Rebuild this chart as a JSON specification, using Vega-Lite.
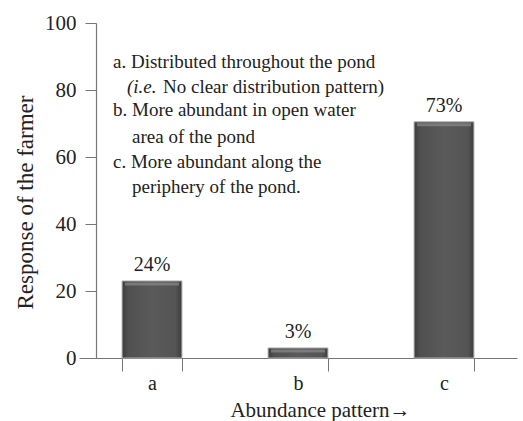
{
  "$schema": "https://vega.github.io/schema/vega-lite/v6.json",
  "autosize": "none",
  "width": 438,
  "height": 335,
  "padding": {"left": 79, "top": 23, "right": 6, "bottom": 63},
  "background": "white",
  "config": {
    "font": "Liberation Serif",
    "text": {"font": "Liberation Serif"},
    "axis": {"labelFont": "Liberation Serif", "titleFont": "Liberation Serif"},
    "view": {"stroke": null}
  },
  "datasets": {
    "bars": [
      {"pattern": "a", "response": 23, "label": "24%"},
      {"pattern": "b", "response": 3, "label": "3%"},
      {"pattern": "c", "response": 70.5, "label": "73%"}
    ],
    "notes": [
      {"text": "a. Distributed throughout the pond", "y": 88.4, "kind": "head"},
      {"text": "(i.e.", "y": 80.9, "kind": "italic"},
      {"text": "No clear distribution pattern)", "y": 80.9, "kind": "rest"},
      {"text": "b. More abundant in open water", "y": 74.0, "kind": "head"},
      {"text": "area of the pond", "y": 66.0, "kind": "cont"},
      {"text": "c. More abundant along the", "y": 58.5, "kind": "head"},
      {"text": "periphery of the pond.", "y": 51.0, "kind": "cont"}
    ]
  },
  "layer": [
    {
      "data": {"name": "bars"},
      "mark": {
        "type": "bar",
        "fill": {
          "gradient": "linear",
          "x1": 0, "x2": 1, "y1": 0, "y2": 0,
          "stops": [
            {"offset": 0, "color": "#3c3c3c"},
            {"offset": 0.1, "color": "#505050"},
            {"offset": 0.5, "color": "#5a5a5a"},
            {"offset": 0.9, "color": "#545454"},
            {"offset": 1, "color": "#3c3c3c"}
          ]
        },
        "stroke": "#b0b0b0",
        "strokeWidth": 1
      },
      "encoding": {
        "x": {
          "field": "pattern",
          "type": "nominal",
          "scale": {"paddingInner": 0.59, "paddingOuter": 0.295},
          "axis": {
            "title": "Abundance pattern→",
            "titleFont": "Liberation Serif",
            "titleFontSize": 21,
            "titleFontWeight": "normal",
            "titleColor": "#222",
            "titleX": 241,
            "titleY": 41,
            "titleBaseline": "top",
            "labelAngle": 0,
            "labelFont": "Liberation Serif",
            "labelFontSize": 20,
            "labelColor": "#222",
            "labelPadding": 2,
            "tickBand": "extent",
            "tickSize": 13,
            "tickColor": "#777",
            "domainColor": "#777",
            "domainWidth": 1.2
          }
        },
        "y": {
          "field": "response",
          "type": "quantitative",
          "scale": {"domain": [0, 100]},
          "axis": {
            "title": "Response of the farmer",
            "titleFont": "Liberation Serif",
            "titleFontSize": 23,
            "titleFontWeight": "normal",
            "titleColor": "#222",
            "titleX": -59,
            "titleY": 179,
            "titleAngle": -90,
            "titleBaseline": "bottom",
            "values": [0, 20, 40, 60, 80, 100],
            "offset": -17,
            "grid": false,
            "labelFont": "Liberation Serif",
            "labelFontSize": 21,
            "labelColor": "#222",
            "labelPadding": 9,
            "tickSize": 11,
            "tickColor": "#777",
            "domainColor": "#777",
            "domainWidth": 1.2
          }
        }
      }
    },
    {
      "data": {"name": "bars"},
      "mark": {"type": "tick", "orient": "horizontal", "thickness": 3, "size": 54, "color": "#8a8a8a", "yOffset": 3},
      "encoding": {
        "x": {"field": "pattern", "type": "nominal"},
        "y": {"field": "response", "type": "quantitative"}
      }
    },
    {
      "data": {"name": "bars"},
      "mark": {"type": "text", "font": "Liberation Serif", "fontSize": 20, "color": "#222", "baseline": "alphabetic", "dy": -10},
      "encoding": {
        "x": {"field": "pattern", "type": "nominal"},
        "y": {"field": "response", "type": "quantitative"},
        "text": {"field": "label"}
      }
    },
    {
      "data": {"name": "notes"},
      "transform": [{"filter": "datum.kind === 'head'"}],
      "mark": {"type": "text", "font": "Liberation Serif", "fontSize": 19, "color": "#222", "align": "left", "baseline": "middle", "dx": -39},
      "encoding": {
        "x": {"datum": "a", "type": "nominal"},
        "y": {"field": "y", "type": "quantitative"},
        "text": {"field": "text"}
      }
    },
    {
      "data": {"name": "notes"},
      "transform": [{"filter": "datum.kind === 'cont'"}],
      "mark": {"type": "text", "font": "Liberation Serif", "fontSize": 19, "color": "#222", "align": "left", "baseline": "middle", "dx": -20},
      "encoding": {
        "x": {"datum": "a", "type": "nominal"},
        "y": {"field": "y", "type": "quantitative"},
        "text": {"field": "text"}
      }
    },
    {
      "data": {"name": "notes"},
      "transform": [{"filter": "datum.kind === 'italic'"}],
      "mark": {"type": "text", "font": "Liberation Serif", "fontSize": 19, "fontStyle": "italic", "color": "#222", "align": "left", "baseline": "middle", "dx": -25},
      "encoding": {
        "x": {"datum": "a", "type": "nominal"},
        "y": {"field": "y", "type": "quantitative"},
        "text": {"field": "text"}
      }
    },
    {
      "data": {"name": "notes"},
      "transform": [{"filter": "datum.kind === 'rest'"}],
      "mark": {"type": "text", "font": "Liberation Serif", "fontSize": 19, "color": "#222", "align": "left", "baseline": "middle", "dx": 11},
      "encoding": {
        "x": {"datum": "a", "type": "nominal"},
        "y": {"field": "y", "type": "quantitative"},
        "text": {"field": "text"}
      }
    }
  ]
}
